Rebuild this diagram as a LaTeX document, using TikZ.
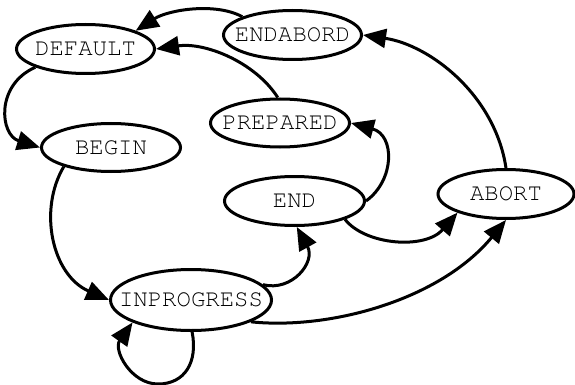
\documentclass[tikz,border=0pt]{standalone}
\usetikzlibrary{arrows.meta,shapes.geometric}
\newcommand\crfont{\fontencoding{T1}\fontfamily{pcr}\fontseries{m}\fontshape{n}\fontsize{24}{28}\selectfont}
\newcommand\ztext[1]{\makebox[0pt][c]{#1}}
\begin{document}
\begin{tikzpicture}[x=1pt,y=-1pt,
  st/.style={ellipse, draw, line width=3pt, inner sep=0pt,
    minimum width=138pt, minimum height=49pt, font=\crfont},
  tr/.style={line width=3pt, -{Triangle[length=23pt,width=19pt]}}]
\useasboundingbox (0,0) rectangle (575,385);
\node[st] (DEFAULT) at (85.5,49) {\ztext{DEFAULT}};
\node[st] (ENDABORD) at (292.5,35) {\ztext{ENDABORD}};
\node[st, minimum width=139pt, minimum height=48pt] (PREPARED) at (280,123) {\ztext{PREPARED}};
\node[st, minimum width=139pt, minimum height=48pt] (BEGIN) at (111,147.5) {\ztext{BEGIN}};
\node[st, minimum width=140pt] (END) at (294.5,201) {\ztext{END}};
\node[st, minimum width=136pt] (ABORT) at (506,194) {\ztext{ABORT}};
\node[st, minimum width=161pt, minimum height=61pt] (INPROGRESS) at (191,300) {\ztext{INPROGRESS}};
\draw[tr] (ENDABORD.160) .. controls (215,2) and (168,10) .. (DEFAULT.20);
\draw[tr] (PREPARED.95) .. controls (255,62) and (205,42) .. (DEFAULT.east);
\draw[tr] (DEFAULT.200) .. controls (-5,85) and (0,135) .. (BEGIN.west);
\draw[tr] (BEGIN.202) .. controls (38,210) and (52,275) .. (INPROGRESS.west);
\draw[tr] (INPROGRESS.272) .. controls (198,362) and (185,384) .. (158,384)
  .. controls (131,384) and (113,350) .. (INPROGRESS.201);
\draw[tr] (INPROGRESS.12) .. controls (292,292) and (316,262) .. (END.-85);
\draw[tr] (END.east) .. controls (395,180) and (395,135) .. (PREPARED.east);
\draw[tr] (END.-20) .. controls (365,245) and (425,250) .. (ABORT.201);
\draw[tr] (INPROGRESS.-20) .. controls (330,330) and (440,300) .. (ABORT.south);
\draw[tr] (ABORT.north) .. controls (495,95) and (430,45) .. (ENDABORD.east);
\end{tikzpicture}
\end{document}
